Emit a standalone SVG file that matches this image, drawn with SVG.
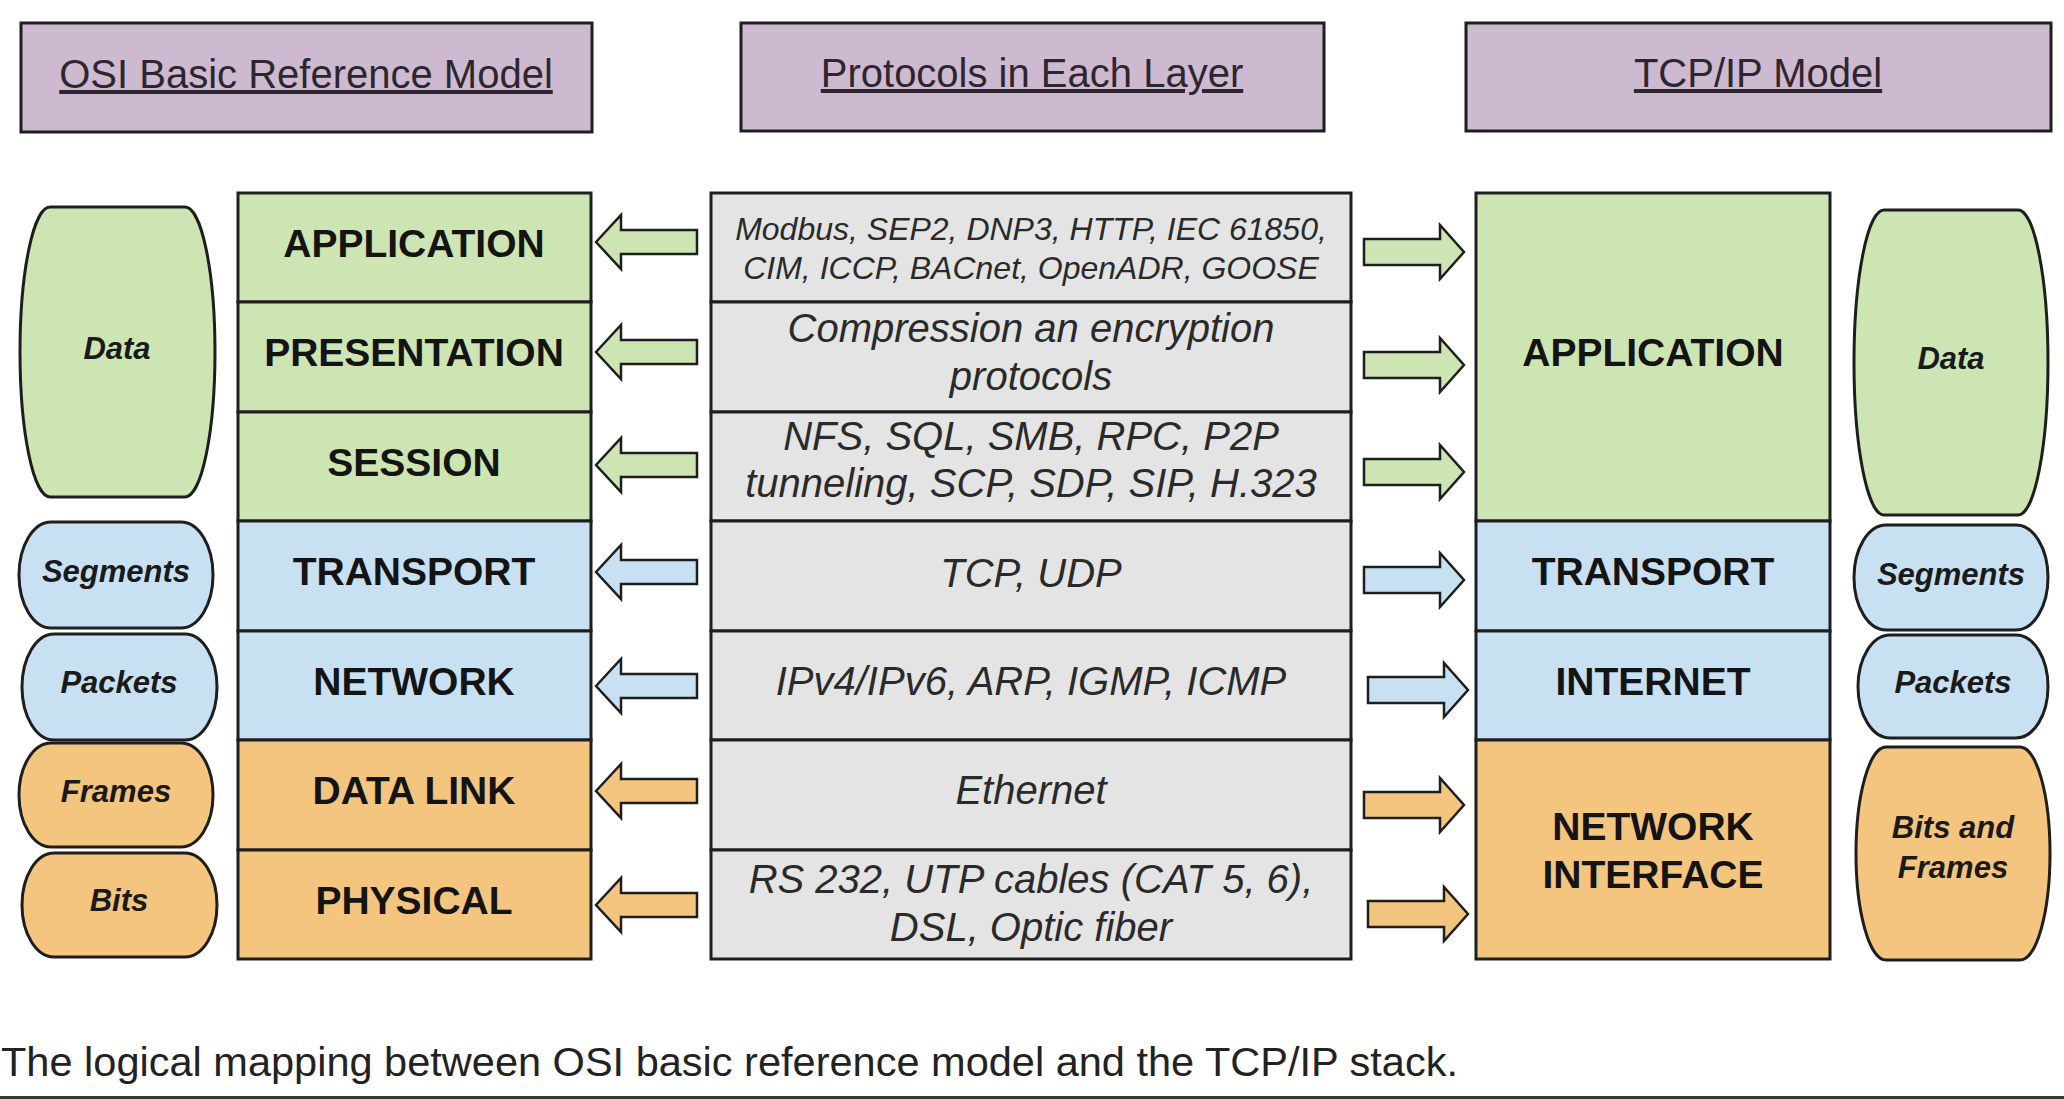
<svg xmlns="http://www.w3.org/2000/svg" width="2064" height="1099" viewBox="0 0 2064 1099">
<style>
.box{stroke:#1e1e1e;stroke-width:3}
.hdrbox{fill:#CDBAD1}
.g{fill:#CDE5B2}
.b{fill:#C7E0F2}
.o{fill:#F4C57E}
.gr{fill:#E4E4E4}
.arr{stroke:#1e1e1e;stroke-width:2.5;stroke-linejoin:miter}
text{font-family:"Liberation Sans",Arial,sans-serif;text-anchor:middle}
.hdr{font-size:40px;fill:#2e262e;text-decoration:underline}
.lay{font-size:39px;font-weight:bold;fill:#141414}
.pro{font-size:40px;font-style:italic;fill:#2a2a2a}
.pros{font-size:32px;font-style:italic;fill:#2a2a2a}
.cap{font-size:31px;font-weight:bold;font-style:italic;fill:#1a1a1a}
.caption{font-size:41px;fill:#222;text-anchor:start}
</style>
<rect width="2064" height="1099" fill="#ffffff"/>

<g id="header-osi">
<rect class="box hdrbox" x="21" y="23" width="571" height="109"/>
<text class="hdr" x="306" y="88">OSI Basic Reference Model</text>
</g>
<g id="header-protocols">
<rect class="box hdrbox" x="741" y="23" width="583" height="108"/>
<text class="hdr" x="1032" y="87">Protocols in Each Layer</text>
</g>
<g id="header-tcpip">
<rect class="box hdrbox" x="1466" y="23" width="585" height="108"/>
<text class="hdr" x="1758" y="87">TCP/IP Model</text>
</g>

<!-- OSI stack -->
<g id="osi-application"><rect class="box g" x="238" y="193" width="353" height="109"/><text class="lay" x="414" y="257">APPLICATION</text></g>
<g id="osi-presentation"><rect class="box g" x="238" y="302" width="353" height="110"/><text class="lay" x="414" y="366">PRESENTATION</text></g>
<g id="osi-session"><rect class="box g" x="238" y="412" width="353" height="109"/><text class="lay" x="414" y="476">SESSION</text></g>
<g id="osi-transport"><rect class="box b" x="238" y="521" width="353" height="110"/><text class="lay" x="414" y="585">TRANSPORT</text></g>
<g id="osi-network"><rect class="box b" x="238" y="631" width="353" height="109"/><text class="lay" x="414" y="695">NETWORK</text></g>
<g id="osi-datalink"><rect class="box o" x="238" y="740" width="353" height="110"/><text class="lay" x="414" y="804">DATA LINK</text></g>
<g id="osi-physical"><rect class="box o" x="238" y="850" width="353" height="109"/><text class="lay" x="414" y="914">PHYSICAL</text></g>

<!-- Protocols stack -->
<g id="proto-application"><rect class="box gr" x="711" y="193" width="640" height="109"/>
<text class="pros" x="1031" y="240">Modbus, SEP2, DNP3, HTTP, IEC 61850,</text>
<text class="pros" x="1031" y="279">CIM, ICCP, BACnet, OpenADR, GOOSE</text></g>
<g id="proto-presentation"><rect class="box gr" x="711" y="302" width="640" height="110"/>
<text class="pro" x="1031" y="342">Compression an encryption</text>
<text class="pro" x="1031" y="390">protocols</text></g>
<g id="proto-session"><rect class="box gr" x="711" y="412" width="640" height="109"/>
<text class="pro" x="1031" y="450">NFS, SQL, SMB, RPC, P2P</text>
<text class="pro" x="1031" y="497">tunneling, SCP, SDP, SIP, H.323</text></g>
<g id="proto-transport"><rect class="box gr" x="711" y="521" width="640" height="110"/>
<text class="pro" x="1031" y="587">TCP, UDP</text></g>
<g id="proto-network"><rect class="box gr" x="711" y="631" width="640" height="109"/>
<text class="pro" x="1031" y="695">IPv4/IPv6, ARP, IGMP, ICMP</text></g>
<g id="proto-datalink"><rect class="box gr" x="711" y="740" width="640" height="110"/>
<text class="pro" x="1031" y="804">Ethernet</text></g>
<g id="proto-physical"><rect class="box gr" x="711" y="850" width="640" height="109"/>
<text class="pro" x="1031" y="893">RS 232, UTP cables (CAT 5, 6),</text>
<text class="pro" x="1031" y="941">DSL, Optic fiber</text></g>

<!-- TCP/IP stack -->
<g id="tcp-application"><rect class="box g" x="1476" y="193" width="354" height="328"/><text class="lay" x="1653" y="366">APPLICATION</text></g>
<g id="tcp-transport"><rect class="box b" x="1476" y="521" width="354" height="110"/><text class="lay" x="1653" y="585">TRANSPORT</text></g>
<g id="tcp-internet"><rect class="box b" x="1476" y="631" width="354" height="109"/><text class="lay" x="1653" y="695">INTERNET</text></g>
<g id="tcp-netif"><rect class="box o" x="1476" y="740" width="354" height="219"/>
<text class="lay" x="1653" y="840">NETWORK</text><text class="lay" x="1653" y="888">INTERFACE</text></g>

<!-- Left PDU capsules -->
<g id="pdu-left-data"><path class="box g" d="M50,207 H185 A30,145 0 0 1 185,497 H50 A30,145 0 0 1 50,207 Z"/><text class="cap" x="117" y="359">Data</text></g>
<g id="pdu-left-segments"><path class="box b" d="M51,522 H181 A32,53 0 0 1 181,628 H51 A32,53 0 0 1 51,522 Z"/><text class="cap" x="116" y="582">Segments</text></g>
<g id="pdu-left-packets"><path class="box b" d="M54,634 H185 A32,53 0 0 1 185,740 H54 A32,53 0 0 1 54,634 Z"/><text class="cap" x="119" y="693">Packets</text></g>
<g id="pdu-left-frames"><path class="box o" d="M51,743 H181 A32,52 0 0 1 181,847 H51 A32,52 0 0 1 51,743 Z"/><text class="cap" x="116" y="802">Frames</text></g>
<g id="pdu-left-bits"><path class="box o" d="M54,853 H185 A32,52 0 0 1 185,957 H54 A32,52 0 0 1 54,853 Z"/><text class="cap" x="119" y="911">Bits</text></g>

<!-- Right PDU capsules -->
<g id="pdu-right-data"><path class="box g" d="M1884,210 H2018 A30,152.5 0 0 1 2018,515 H1884 A30,152.5 0 0 1 1884,210 Z"/><text class="cap" x="1951" y="369">Data</text></g>
<g id="pdu-right-segments"><path class="box b" d="M1886,525 H2016 A32,52.5 0 0 1 2016,630 H1886 A32,52.5 0 0 1 1886,525 Z"/><text class="cap" x="1951" y="585">Segments</text></g>
<g id="pdu-right-packets"><path class="box b" d="M1890,635 H2016 A32,51.5 0 0 1 2016,738 H1890 A32,51.5 0 0 1 1890,635 Z"/><text class="cap" x="1953" y="693">Packets</text></g>
<g id="pdu-right-bitsframes"><path class="box o" d="M1886,747 H2020 A30,106.5 0 0 1 2020,960 H1886 A30,106.5 0 0 1 1886,747 Z"/>
<text class="cap" x="1953" y="838">Bits and</text><text class="cap" x="1953" y="878">Frames</text></g>

<!-- Connectors -->
<g id="connectors">
<polygon class="arr g" points="596,242 621,215 621,230 697,230 697,254 621,254 621,269"/>
<polygon class="arr g" points="596,352 621,325 621,340 697,340 697,364 621,364 621,379"/>
<polygon class="arr g" points="596,465 621,438 621,453 697,453 697,477 621,477 621,492"/>
<polygon class="arr b" points="596,572 621,545 621,560 697,560 697,584 621,584 621,599"/>
<polygon class="arr b" points="596,686 621,659 621,674 697,674 697,698 621,698 621,713"/>
<polygon class="arr o" points="596,791 621,764 621,779 697,779 697,803 621,803 621,818"/>
<polygon class="arr o" points="596,905 621,878 621,893 697,893 697,917 621,917 621,932"/>

<polygon class="arr g" points="1364,239 1440,239 1440,225 1464,252 1440,279 1440,265 1364,265"/>
<polygon class="arr g" points="1364,352 1440,352 1440,338 1464,365 1440,392 1440,378 1364,378"/>
<polygon class="arr g" points="1364,459 1440,459 1440,445 1464,472 1440,499 1440,485 1364,485"/>
<polygon class="arr b" points="1364,567 1440,567 1440,553 1464,580 1440,607 1440,593 1364,593"/>
<polygon class="arr b" points="1368,677 1444,677 1444,663 1468,690 1444,717 1444,703 1368,703"/>
<polygon class="arr o" points="1364,792 1440,792 1440,778 1464,805 1440,832 1440,818 1364,818"/>
<polygon class="arr o" points="1368,901 1444,901 1444,887 1468,914 1444,941 1444,927 1368,927"/>
</g>

<text class="caption" x="1" y="1076" textLength="1457" lengthAdjust="spacingAndGlyphs">The logical mapping between OSI basic reference model and the TCP/IP stack.</text>
<rect x="0" y="1096" width="2064" height="3" fill="#383838"/>
</svg>
